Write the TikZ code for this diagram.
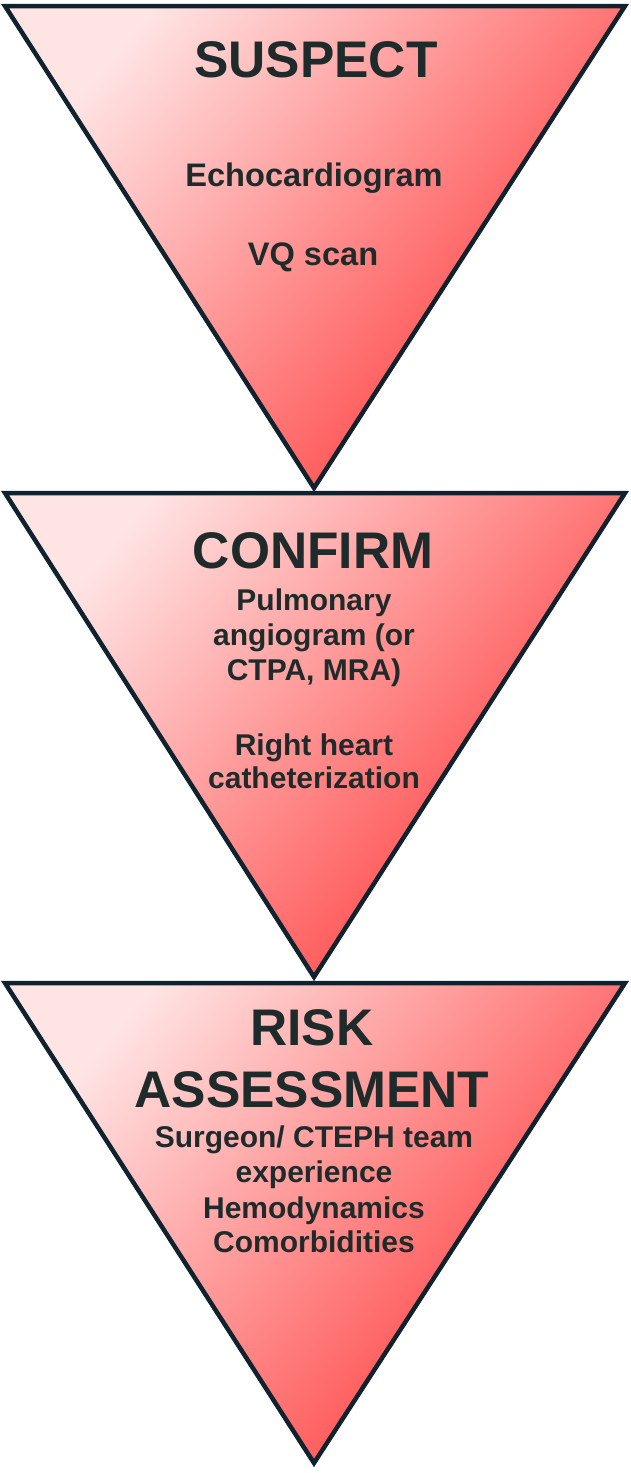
\documentclass[tikz,border=0pt]{standalone}
\usepackage{fontspec}
\setmainfont{Liberation Sans}
\begin{document}
\begin{tikzpicture}[x=1pt,y=1pt,
  tri/.style={draw=edgecol,line width=4.5pt,line join=miter,
    top color=lightpink,bottom color=deepred,shading angle=50},
  ttl/.style={anchor=base,text=txtcol,inner sep=0pt,font=\bfseries\fontsize{51.5}{60}\selectfont},
  bodyA/.style={anchor=base,text=txtcol,inner sep=0pt,font=\bfseries\fontsize{32.6}{38}\selectfont},
  bodyB/.style={anchor=base,text=txtcol,inner sep=0pt,font=\bfseries\fontsize{30}{35}\selectfont}]
\definecolor{edgecol}{HTML}{10222E}
\definecolor{txtcol}{HTML}{1F2B2B}
\definecolor{lightpink}{HTML}{FFE4E4}
\definecolor{deepred}{HTML}{FF3838}
\useasboundingbox (0,0) rectangle (630,-1473);
% triangles
\coordinate (a1) at (5,-6);   \coordinate (b1) at (625,-6);   \coordinate (c1) at (314,-488);
\coordinate (a2) at (5,-493); \coordinate (b2) at (625,-493); \coordinate (c2) at (314,-977);
\coordinate (a3) at (5,-983); \coordinate (b3) at (625,-983); \coordinate (c3) at (314,-1463);
\shade[tri] (a1) -- (b1) -- (c1) -- cycle;
\shade[tri] (a2) -- (b2) -- (c2) -- cycle;
\shade[tri] (a3) -- (b3) -- (c3) -- cycle;
% texts
\node[ttl] (t1) at (316,-77) {SUSPECT};
\node[bodyA] (s1) at (314,-186) {Echocardiogram};
\node[bodyA] (s2) at (313,-265) {VQ scan};
\node[ttl] (t2) at (313,-568) {CONFIRM};
\node[bodyB] (c1a) at (314,-610) {Pulmonary};
\node[bodyB] (c1b) at (314,-645) {angiogram (or};
\node[bodyB] (c1c) at (314,-680) {CTPA, MRA)};
\node[bodyB] (c2a) at (314,-755) {Right heart};
\node[bodyB] (c2b) at (314,-788) {catheterization};
\node[ttl] (t3a) at (312,-1045) {RISK};
\node[ttl] (t3b) at (312,-1107) {ASSESSMENT};
\node[bodyB] (r1) at (314,-1147) {Surgeon/ CTEPH team};
\node[bodyB] (r2) at (314,-1182) {experience};
\node[bodyB] (r3) at (314,-1218) {Hemodynamics};
\node[bodyB] (r4) at (314,-1252) {Comorbidities};
\end{tikzpicture}
\end{document}
